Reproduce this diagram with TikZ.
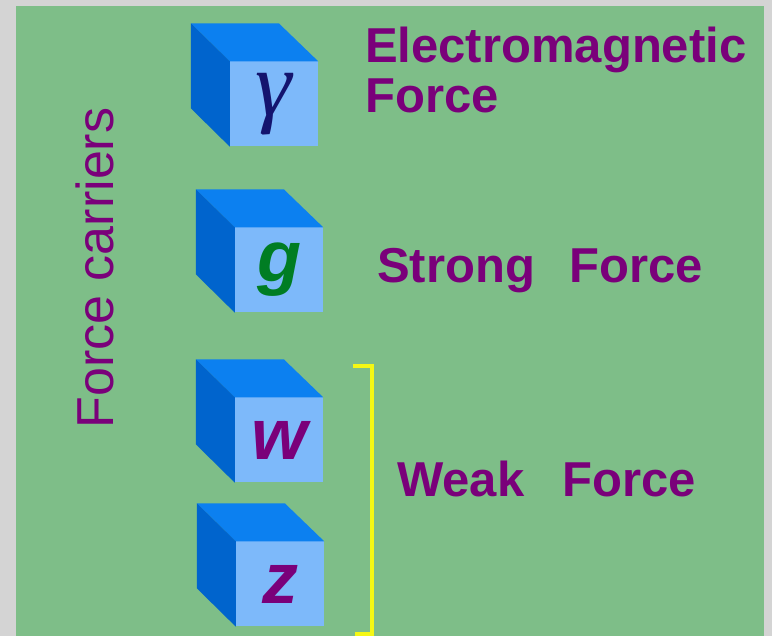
\documentclass[tikz,border=0pt]{standalone}
\usepackage{fontspec}
\setmainfont{Liberation Sans}
\newfontfamily\greekserif{Liberation Serif}
\usetikzlibrary{calc}

\definecolor{slidegray}{RGB}{212,212,212}
\definecolor{panelgreen}{RGB}{126,190,136}
\definecolor{labelpurple}{RGB}{122,0,122}
\definecolor{photonblue}{RGB}{20,20,110}
\definecolor{gluongreen}{RGB}{0,125,35}
\definecolor{cubefront}{RGB}{125,185,250}
\definecolor{cubetop}{RGB}{12,128,240}
\definecolor{cubeside}{RGB}{0,100,205}
\definecolor{bracketyellow}{RGB}{245,248,20}

\tikzset{
    carriers diagram/.style = {x=1pt, y=1pt},
    cube/.style        = {fill=cubefront, inner sep=0pt,
                          minimum width=88pt, minimum height=85pt,
                          font=\fontsize{72}{72}\selectfont\bfseries\itshape},
    force label/.style = {text=labelpurple, inner sep=0pt, anchor=base west,
                          align=left,
                          font=\fontsize{49}{50}\selectfont\bfseries},
    side label/.style  = {text=labelpurple, inner sep=0pt, rotate=90,
                          anchor=base, font=\fontsize{52}{52}\selectfont},
    bracket/.style     = {draw=bracketyellow, line width=3.5pt}
}

\begin{document}
\begin{tikzpicture}[carriers diagram]

% ================= Slide and panel =================
\useasboundingbox (0, 0) rectangle (772, 636);
\fill[slidegray] (0, 0) rectangle (772, 636);
\fill[panelgreen] (16, 0) rectangle (764, 630);

% ================= Carrier cubes (front faces) =================
\node[cube, text=photonblue] (photon) at (274, 532)
    {\greekserif\mdseries\itshape\fontsize{92}{92}\selectfont γ};
\node[cube, text=gluongreen] (gluon) at (279, 366) {g};
\node[cube, text=labelpurple] (wboson) at (279, 196) {w};
\node[cube, text=labelpurple] (zboson) at (280, 52) {z};

% ================= Top and side faces =================
\foreach \c in {photon, gluon, wboson, zboson} {
    \fill[cubetop] (\c.north west) -- ++(-39, 38) -- ++(88, 0)
        -- (\c.north east) -- cycle;
    \fill[cubeside] (\c.north west) -- ++(-39, 38) -- ++(0, -85)
        -- (\c.south west) -- cycle;
}

% ================= Force labels =================
\node[force label] (em) at (365, 523) {Electromagnetic\\Force};
\node[force label] (strong) at (377, 353) {Strong\hspace{0.7em}Force};
\node[force label] (weak) at (397, 139) {Weak\hspace{0.78em}Force};
\node[side label] (carriers) at (113, 368) {Force carriers};

% ================= Weak bracket =================
\coordinate (bracket top) at (372, 270);
\coordinate (bracket bottom) at (372, 2);
\draw[bracket] ($(bracket top)+(-19, 0)$) -- (bracket top)
    -- (bracket bottom) -- ++(-17, 0);

\end{tikzpicture}
\end{document}
